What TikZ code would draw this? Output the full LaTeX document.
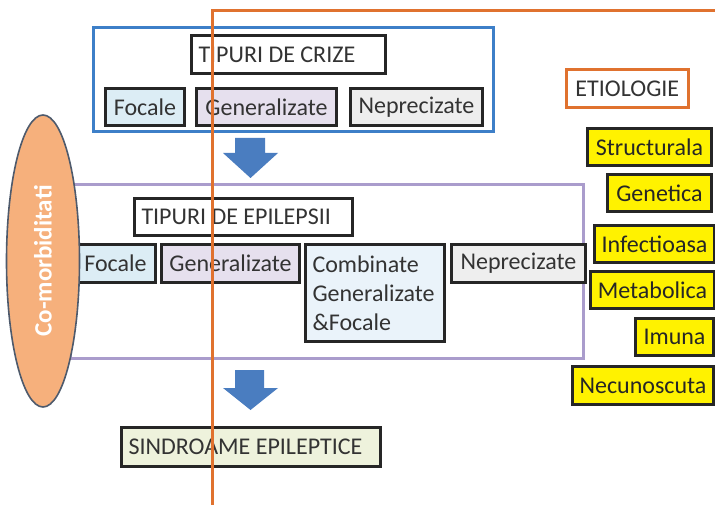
\documentclass[tikz,border=0pt]{standalone}
\usepackage{fontspec}
\setmainfont{Carlito}
\usetikzlibrary{shapes.geometric}
\definecolor{orln}{HTML}{E0722F}
\definecolor{blbox}{HTML}{3D7FC8}
\definecolor{blarrow}{HTML}{4A7DC0}
\definecolor{purbox}{HTML}{AA9CCC}
\definecolor{ellfill}{HTML}{F6B07C}
\definecolor{ellline}{HTML}{4E5A6C}
\definecolor{yel}{HTML}{FFF200}
\definecolor{fblue}{HTML}{DCEDF5}
\definecolor{flav}{HTML}{E6E0EE}
\definecolor{fgray}{HTML}{EEEEEE}
\definecolor{fcomb}{HTML}{EAF3FA}
\definecolor{fsind}{HTML}{EEF2DC}
\definecolor{txt}{HTML}{333333}
\definecolor{bline}{HTML}{262626}
\begin{document}
\begin{tikzpicture}[x=1pt,y=-1pt,
  bx/.style={draw=bline, line width=3pt, inner sep=0pt, anchor=north west,
    font=\fontsize{24}{28}\selectfont, text=txt},
  lbx/.style={bx, align=flush left, inner xsep=7pt},
  ybx/.style={bx, fill=yel, text=black!85},
  group/.style={line width=3pt},
  barrow/.style={fill=blarrow, draw=none}]
\useasboundingbox (0,0) rectangle (715,505);
\fill[white] (0,0) rectangle (715,505);

% group frames
\draw[group, draw=blbox] (93,28) rectangle (493,132);
\draw[group, draw=purbox] (70,185) rectangle (583,358);

% seizure types
\node[lbx, fill=white, text width=180pt, minimum height=38pt] (crize) at (190,34) {TIPURI DE CRIZE};
\node[bx, fill=fblue, minimum width=79pt, minimum height=37pt] (cfoc) at (104,87) {Focale};
\node[bx, fill=flav, minimum width=140pt, minimum height=37pt] (cgen) at (195,87) {Generalizate};
\node[bx, fill=fgray, minimum width=132pt, minimum height=37pt] (cnep) at (349,87) {Neprecizate};

% arrow 1
\fill[barrow] (235,138) -- (265,138) -- (265,153) -- (278,153) -- (250.5,178) -- (223,153) -- (235,153) -- cycle;

% epilepsy types
\node[lbx, fill=white, text width=204pt, minimum height=37pt] (epi) at (133,197) {TIPURI DE EPILEPSII};
\node[bx, fill=fblue, minimum width=80pt, minimum height=38pt] (efoc) at (74,243) {Focale};
\node[bx, fill=flav, minimum width=138pt, minimum height=38pt] (egen) at (160,243) {Generalizate};
\node[lbx, fill=fcomb, text width=125pt, minimum height=97pt,
  font=\fontsize{24}{29}\selectfont] (ecomb) at (304,243) {Combinate\\Generalizate\\\&Focale};
\node[bx, fill=fgray, minimum width=134pt, minimum height=38pt] (enep) at (450,243) {Neprecizate};

% arrow 2
\fill[barrow] (235,370) -- (264,370) -- (264,388) -- (278,388) -- (250.5,410) -- (223,388) -- (235,388) -- cycle;

% syndromes
\node[lbx, fill=fsind, text width=245pt, minimum height=39pt] (sind) at (120,426) {SINDROAME EPILEPTICE};

% comorbidities
\node[ellipse, draw=ellline, line width=1.6pt, fill=ellfill, minimum width=73pt, minimum height=292pt, inner sep=0pt] (comb) at (43,261) {};
\node[rotate=90, text=white, font=\fontsize{25}{28}\selectfont\bfseries] (combt) at (comb.center) {Co-morbiditati};

% etiology
\node[bx, draw=orln, line width=2.6pt, fill=white, minimum width=122pt, minimum height=38pt] (etio) at (565,68) {ETIOLOGIE};
\node[ybx, minimum width=124pt, minimum height=37pt] (e1) at (586,127) {Structurala};
\node[ybx, minimum width=104pt, minimum height=37pt] (e2) at (606,173) {Genetica};
\node[ybx, minimum width=120pt, minimum height=37pt] (e3) at (593,224) {Infectioasa};
\node[ybx, minimum width=124pt, minimum height=37pt] (e4) at (589,270) {Metabolica};
\node[ybx, minimum width=78pt, minimum height=37pt] (e5) at (634,317) {Imuna};
\node[ybx, minimum width=141pt, minimum height=38pt] (e6) at (571,365) {Necunoscuta};

% orange frame line
\draw[orln, line width=3pt] (212,505) -- (212,11) -- (715,11);
\end{tikzpicture}
\end{document}
